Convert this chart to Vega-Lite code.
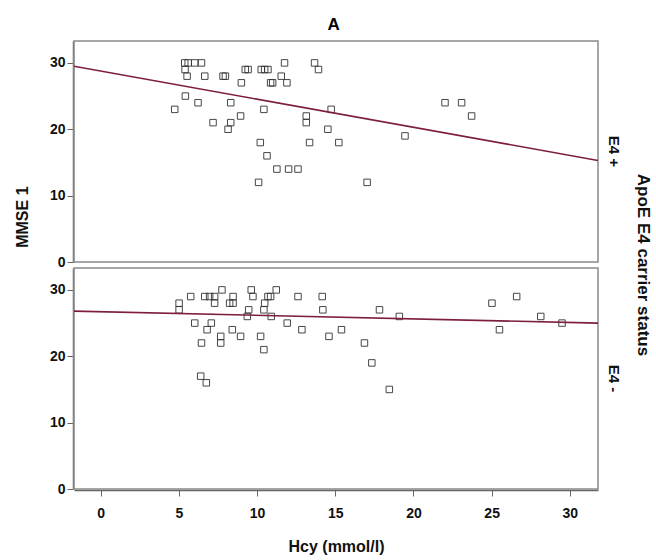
{
  "$schema": "https://vega.github.io/schema/vega-lite/v6.json",
  "background": "white",
  "padding": {"left": 15, "top": 16, "right": 0, "bottom": 5},
  "title": {"text": "A", "fontSize": 17, "fontWeight": "bold", "font": "Liberation Sans", "anchor": "middle", "color": "black", "offset": 6},
  "config": {
    "font": "Liberation Sans",
    "view": {"stroke": "#8a8a8a", "strokeWidth": 1.5},
    "axis": {"grid": false, "labelFont": "Liberation Sans", "labelFontSize": 14, "labelFontWeight": "bold", "labelColor": "#111", "titleFont": "Liberation Sans", "titleFontSize": 16, "titleFontWeight": "bold", "titleColor": "#111", "domainColor": "#666", "tickColor": "#666", "domainWidth": 1.5, "tickSize": 6}
  },
  "data": {"values": [
    {"g":"E4 +","kind":"pt","hcy":5.38,"mmse":30},{"g":"E4 +","kind":"pt","hcy":5.6,"mmse":30},{"g":"E4 +","kind":"pt","hcy":6.02,"mmse":30},{"g":"E4 +","kind":"pt","hcy":6.45,"mmse":30},
    {"g":"E4 +","kind":"pt","hcy":5.4,"mmse":29},{"g":"E4 +","kind":"pt","hcy":5.53,"mmse":28},{"g":"E4 +","kind":"pt","hcy":6.66,"mmse":28},{"g":"E4 +","kind":"pt","hcy":7.83,"mmse":28},
    {"g":"E4 +","kind":"pt","hcy":7.98,"mmse":28},{"g":"E4 +","kind":"pt","hcy":9.0,"mmse":27},{"g":"E4 +","kind":"pt","hcy":9.25,"mmse":29},{"g":"E4 +","kind":"pt","hcy":9.43,"mmse":29},
    {"g":"E4 +","kind":"pt","hcy":10.27,"mmse":29},{"g":"E4 +","kind":"pt","hcy":10.49,"mmse":29},{"g":"E4 +","kind":"pt","hcy":10.7,"mmse":29},{"g":"E4 +","kind":"pt","hcy":10.87,"mmse":27},
    {"g":"E4 +","kind":"pt","hcy":11.0,"mmse":27},{"g":"E4 +","kind":"pt","hcy":11.55,"mmse":28},{"g":"E4 +","kind":"pt","hcy":11.76,"mmse":30},{"g":"E4 +","kind":"pt","hcy":11.91,"mmse":27},
    {"g":"E4 +","kind":"pt","hcy":13.68,"mmse":30},{"g":"E4 +","kind":"pt","hcy":13.93,"mmse":29},{"g":"E4 +","kind":"pt","hcy":5.42,"mmse":25},{"g":"E4 +","kind":"pt","hcy":6.23,"mmse":24},
    {"g":"E4 +","kind":"pt","hcy":8.32,"mmse":24},{"g":"E4 +","kind":"pt","hcy":4.74,"mmse":23},{"g":"E4 +","kind":"pt","hcy":8.95,"mmse":22},{"g":"E4 +","kind":"pt","hcy":10.44,"mmse":23},
    {"g":"E4 +","kind":"pt","hcy":7.19,"mmse":21},{"g":"E4 +","kind":"pt","hcy":8.32,"mmse":21},{"g":"E4 +","kind":"pt","hcy":8.15,"mmse":20},{"g":"E4 +","kind":"pt","hcy":13.15,"mmse":22},
    {"g":"E4 +","kind":"pt","hcy":13.15,"mmse":21},{"g":"E4 +","kind":"pt","hcy":14.53,"mmse":20},{"g":"E4 +","kind":"pt","hcy":14.74,"mmse":23},{"g":"E4 +","kind":"pt","hcy":10.21,"mmse":18},
    {"g":"E4 +","kind":"pt","hcy":13.36,"mmse":18},{"g":"E4 +","kind":"pt","hcy":15.23,"mmse":18},{"g":"E4 +","kind":"pt","hcy":10.64,"mmse":16},{"g":"E4 +","kind":"pt","hcy":11.27,"mmse":14},
    {"g":"E4 +","kind":"pt","hcy":12.02,"mmse":14},{"g":"E4 +","kind":"pt","hcy":12.62,"mmse":14},{"g":"E4 +","kind":"pt","hcy":10.1,"mmse":12},{"g":"E4 +","kind":"pt","hcy":17.04,"mmse":12},
    {"g":"E4 +","kind":"pt","hcy":19.46,"mmse":19},{"g":"E4 +","kind":"pt","hcy":22.02,"mmse":24},{"g":"E4 +","kind":"pt","hcy":23.08,"mmse":24},{"g":"E4 +","kind":"pt","hcy":23.72,"mmse":22},
    {"g":"E4 -","kind":"pt","hcy":5.02,"mmse":28},{"g":"E4 -","kind":"pt","hcy":5.02,"mmse":27},{"g":"E4 -","kind":"pt","hcy":5.76,"mmse":29},{"g":"E4 -","kind":"pt","hcy":6.66,"mmse":29},
    {"g":"E4 -","kind":"pt","hcy":6.97,"mmse":29},{"g":"E4 -","kind":"pt","hcy":7.29,"mmse":29},{"g":"E4 -","kind":"pt","hcy":7.29,"mmse":28},{"g":"E4 -","kind":"pt","hcy":7.76,"mmse":30},
    {"g":"E4 -","kind":"pt","hcy":8.47,"mmse":29},{"g":"E4 -","kind":"pt","hcy":8.25,"mmse":28},{"g":"E4 -","kind":"pt","hcy":8.47,"mmse":28},{"g":"E4 -","kind":"pt","hcy":9.63,"mmse":30},
    {"g":"E4 -","kind":"pt","hcy":9.74,"mmse":29},{"g":"E4 -","kind":"pt","hcy":9.47,"mmse":27},{"g":"E4 -","kind":"pt","hcy":9.38,"mmse":26},{"g":"E4 -","kind":"pt","hcy":10.49,"mmse":28},
    {"g":"E4 -","kind":"pt","hcy":10.7,"mmse":29},{"g":"E4 -","kind":"pt","hcy":10.87,"mmse":29},{"g":"E4 -","kind":"pt","hcy":11.23,"mmse":30},{"g":"E4 -","kind":"pt","hcy":10.91,"mmse":26},
    {"g":"E4 -","kind":"pt","hcy":10.44,"mmse":27},{"g":"E4 -","kind":"pt","hcy":12.62,"mmse":29},{"g":"E4 -","kind":"pt","hcy":14.17,"mmse":29},{"g":"E4 -","kind":"pt","hcy":14.21,"mmse":27},
    {"g":"E4 -","kind":"pt","hcy":11.93,"mmse":25},{"g":"E4 -","kind":"pt","hcy":12.87,"mmse":24},{"g":"E4 -","kind":"pt","hcy":14.6,"mmse":23},{"g":"E4 -","kind":"pt","hcy":6.02,"mmse":25},
    {"g":"E4 -","kind":"pt","hcy":7.08,"mmse":25},{"g":"E4 -","kind":"pt","hcy":6.81,"mmse":24},{"g":"E4 -","kind":"pt","hcy":8.42,"mmse":24},{"g":"E4 -","kind":"pt","hcy":8.95,"mmse":23},
    {"g":"E4 -","kind":"pt","hcy":7.68,"mmse":23},{"g":"E4 -","kind":"pt","hcy":7.68,"mmse":22},{"g":"E4 -","kind":"pt","hcy":6.45,"mmse":22},{"g":"E4 -","kind":"pt","hcy":10.23,"mmse":23},
    {"g":"E4 -","kind":"pt","hcy":10.44,"mmse":21},{"g":"E4 -","kind":"pt","hcy":6.4,"mmse":17},{"g":"E4 -","kind":"pt","hcy":6.76,"mmse":16},{"g":"E4 -","kind":"pt","hcy":15.4,"mmse":24},
    {"g":"E4 -","kind":"pt","hcy":17.83,"mmse":27},{"g":"E4 -","kind":"pt","hcy":19.1,"mmse":26},{"g":"E4 -","kind":"pt","hcy":16.87,"mmse":22},{"g":"E4 -","kind":"pt","hcy":17.34,"mmse":19},
    {"g":"E4 -","kind":"pt","hcy":18.46,"mmse":15},{"g":"E4 -","kind":"pt","hcy":25.02,"mmse":28},{"g":"E4 -","kind":"pt","hcy":26.6,"mmse":29},{"g":"E4 -","kind":"pt","hcy":25.5,"mmse":24},
    {"g":"E4 -","kind":"pt","hcy":28.14,"mmse":26},{"g":"E4 -","kind":"pt","hcy":29.5,"mmse":25},
    {"g":"E4 +","kind":"fit","hcy":-1.7,"mmse":29.5},{"g":"E4 +","kind":"fit","hcy":31.8,"mmse":15.3},
    {"g":"E4 -","kind":"fit","hcy":-1.7,"mmse":26.8},{"g":"E4 -","kind":"fit","hcy":31.8,"mmse":25.0}
  ]},
  "vconcat": [
    {
      "title": {"text": "MMSE 1", "orient": "left", "anchor": "middle", "fontSize": 16, "fontWeight": "bold", "font": "Liberation Sans", "color": "#111", "offset": 18, "dx": 80},
      "spacing": {"row": 4},
      "facet": {"row": {"field": "g", "type": "nominal", "sort": ["E4 +", "E4 -"],
        "header": {"title": "ApoE E4 carrier status", "titleOrient": "right", "titleAngle": 90, "titleFontSize": 17, "titleFontWeight": "bold", "titleFont": "Liberation Sans", "titleColor": "#111", "titlePadding": 3,
          "labelOrient": "right", "labelAngle": 90, "labelFontSize": 15, "labelFontWeight": "bold", "labelFont": "Liberation Sans", "labelColor": "#111", "labelPadding": 7}}},
      "spec": {
        "width": 524,
        "height": 221,
        "encoding": {
          "x": {"field": "hcy", "type": "quantitative", "scale": {"domain": [-1.7, 31.8], "nice": false, "zero": false}, "axis": {"values": [0,5,10,15,20,25,30], "title": "Hcy (mmol/l)", "titlePadding": 18, "labelPadding": 10}},
          "y": {"field": "mmse", "type": "quantitative", "scale": {"domain": [0, 33.3], "nice": false}, "axis": {"values": [0,10,20,30], "title": null, "labelPadding": 2}}
        },
        "layer": [
          {"transform": [{"filter": "datum.kind === 'pt'"}], "mark": {"type": "point", "shape": "square", "filled": false, "size": 42, "stroke": "#333", "strokeWidth": 1, "opacity": 0.9, "clip": true}},
          {"transform": [{"filter": "datum.kind === 'fit'"}], "mark": {"type": "line", "color": "#7d1d40", "strokeWidth": 1.6, "clip": true}}
        ]
      }
    }
  ]
}
